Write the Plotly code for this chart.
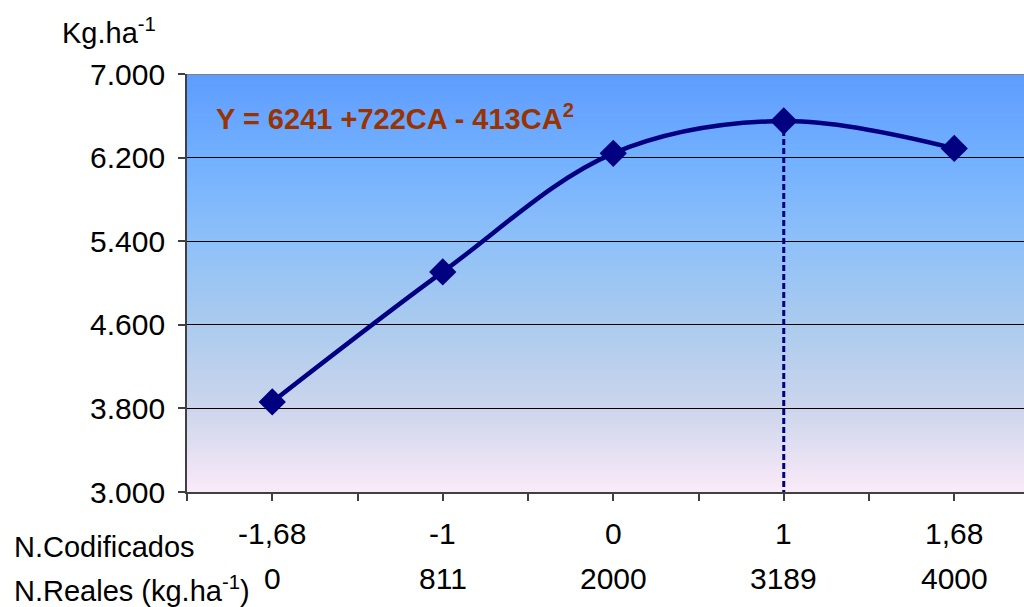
import plotly.graph_objects as go

# Nitrogen dose response: coded levels, real doses and grain yield
coded_levels = ["-1,68", "-1", "0", "1", "1,68"]
real_doses = ["0", "811", "2000", "3189", "4000"]
yield_kg = [3862, 5106, 6241, 6550, 6288]
y_ticks = [3000, 3800, 4600, 5400, 6200, 7000]
y_tick_text = ["3.000", "3.800", "4.600", "5.400", "6.200", "7.000"]
equation = "Y = 6241 +722CA - 413CA<sup>2</sup>"
peak_index = 3

W, H = 1024, 607
ML, MT, MB = 187, 74, 115
PLOT_H = H - MT - MB
PLOT_W = W - ML
FONT = "Liberation Sans"
FS = 30
NAVY = "#000080"


def py(pixel_y):
    return (H - MB - pixel_y) / PLOT_H


def px(pixel_x):
    return (pixel_x - ML) / PLOT_W


xs = list(range(len(yield_kg)))
y_min, y_max = y_ticks[0], y_ticks[-1]

fig = go.Figure()

# dashed drop line from the maximum down to the axis
fig.add_trace(go.Scatter(
    x=[xs[peak_index], xs[peak_index]], y=[yield_kg[peak_index], y_min],
    mode="lines", line=dict(color=NAVY, width=3, dash="6px,3px"),
    hoverinfo="skip", showlegend=False,
))

fig.add_trace(go.Scatter(
    x=xs, y=yield_kg, mode="lines+markers",
    line=dict(color=NAVY, width=4.5, shape="spline", smoothing=1.0),
    marker=dict(symbol="diamond", size=21, color=NAVY),
    showlegend=False,
))

# vertical background gradient, blue at the top to pale pink at the bottom
stops = [
    (0.00, (250, 234, 248)),
    (0.20, (204, 213, 236)),
    (0.40, (171, 203, 238)),
    (0.60, (142, 192, 248)),
    (0.80, (114, 176, 255)),
    (1.00, (94, 156, 255)),
]


def color_at(t):
    for (t0, c0), (t1, c1) in zip(stops[:-1], stops[1:]):
        if t0 <= t <= t1:
            f = (t - t0) / (t1 - t0)
            return "rgb(%d,%d,%d)" % tuple(round(a + (b - a) * f) for a, b in zip(c0, c1))
    return "rgb(%d,%d,%d)" % stops[-1][1]


shapes = []
n_bands = 120
step = (y_max - y_min) / n_bands
for i in range(n_bands):
    t = (i + 0.5) / n_bands
    c = color_at(t)
    shapes.append(dict(
        type="rect", xref="paper", yref="y", x0=0, x1=1,
        y0=y_min + i * step, y1=y_min + (i + 1) * step + step * 0.3,
        fillcolor=c, line=dict(width=0), layer="below",
    ))
shapes.append(dict(
    type="line", xref="paper", yref="y", x0=0, x1=1, y0=y_max, y1=y_max,
    line=dict(color="#808080", width=2), layer="above",
))


def label(text, x, y, xref="paper", yref="paper", xanchor="left", color="black", size=FS):
    return dict(text=text, xref=xref, yref=yref, x=x, y=y, xanchor=xanchor,
                yanchor="middle", showarrow=False,
                font=dict(family=FONT, size=size, color=color))


annotations = [
    label("Kg.ha<sup>-1</sup>", px(60), py(31), size=29),
    label("<b>" + equation + "</b>", px(214), py(117), color="#993300", size=29),
    label("N.Codificados", px(12), py(547), size=29),
    label("N.Reales (kg.ha<sup>-1</sup>)", px(12), py(589), size=29),
]
for v, t in zip(y_ticks, y_tick_text):
    annotations.append(label(t, px(167), v, yref="y", xanchor="right"))
for x, c, r in zip(xs, coded_levels, real_doses):
    annotations.append(label(c, x, py(533), xref="x", xanchor="center"))
    annotations.append(label(r, x, py(578), xref="x", xanchor="center"))

half_ticks = sorted(set([x - 0.5 for x in xs] + xs + [xs[-1] + 0.5]))

fig.update_layout(
    width=W, height=H,
    margin=dict(l=ML, r=0, t=MT, b=MB, pad=0),
    paper_bgcolor="white", plot_bgcolor="rgba(0,0,0,0)",
    shapes=shapes, annotations=annotations,
    xaxis=dict(
        range=[-0.5, -0.5 + PLOT_W / 170.5], tickvals=half_ticks,
        showticklabels=False, ticks="outside", ticklen=7, tickwidth=1.5,
        tickcolor="#404040", showline=True, linecolor="#404040", linewidth=2,
        showgrid=False, zeroline=False, fixedrange=True,
    ),
    yaxis=dict(
        range=[y_min, y_max], tickvals=y_ticks, showticklabels=False,
        ticks="outside", ticklen=7, tickwidth=1.5, tickcolor="#404040",
        showline=True, linecolor="#404040", linewidth=2,
        showgrid=True, gridcolor="black", gridwidth=1, zeroline=False,
        fixedrange=True,
    ),
)

fig.write_html("out.html")
